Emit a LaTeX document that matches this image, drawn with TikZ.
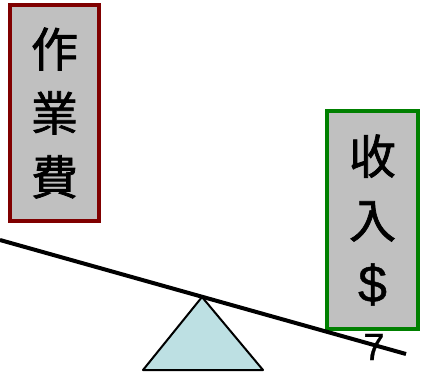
\documentclass[tikz,border=0pt]{standalone}
\usepackage{fontspec}
\setmainfont{Liberation Sans}
\newfontfamily\cjk[FakeBold=1.5]{Noto Sans CJK TC}
\newfontfamily\dollarfont[FakeBold=0.8]{Liberation Sans}
\definecolor{boxgray}{HTML}{C0C0C0}
\definecolor{darkred}{HTML}{800000}
\definecolor{boxgreen}{HTML}{008000}
\definecolor{fulcrum}{HTML}{BDE0E3}
\begin{document}
\begin{tikzpicture}[x=1pt,y=-1pt,
  labelbox/.style={draw, fill=boxgray, line width=4pt, inner sep=0pt, align=center,
    font=\cjk\fontsize{47}{64}\selectfont},
  beam/.style={line width=4pt},
  fulcrumshape/.style={draw=black, fill=fulcrum, line width=2pt, line join=round}]
\useasboundingbox (0,0) rectangle (427,375);
\node[labelbox, draw=darkred, minimum width=89pt, minimum height=216pt] (cost) at (54.5,113) {作\\業\\費};
\node[labelbox, draw=boxgreen, minimum width=91pt, minimum height=218pt] (income) at (372.5,220) {收\\入\\{\dollarfont\fontsize{52}{64}\selectfont\$}};
\coordinate (apex) at (202,297);
\coordinate (bl) at (143,370);
\coordinate (br) at (263,370);
\draw[fulcrumshape] (apex) -- (br) -- (bl) -- cycle;
\coordinate (beamL) at (0,240);
\coordinate (beamR) at (406,354);
\draw[beam] (beamL) -- (beamR);
\node[font=\dollarfont\fontsize{38}{40}\selectfont, inner sep=0pt] (seven) at (374,347) {7};
\end{tikzpicture}
\end{document}
